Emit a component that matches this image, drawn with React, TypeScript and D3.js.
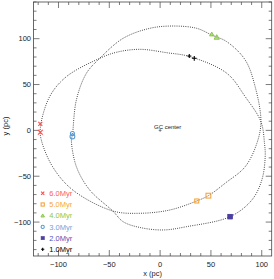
import React from 'react';
import * as d3 from 'd3';

const W = 274;
const H = 279;

const xDomain = [-124.6, 109.8];
const yDomain = [-137, 140];
const xMajor = [-100, -50, 0, 50, 100];
const yMajor = [-100, -50, 0, 50, 100];

// orbit traced in order (closed, two-lobed rosette)
const orbitX = [
  -59.4, -42.9, -19.9, 6.4, 29.4, 65.6, 83.7, 99.2, 102.7, 103.4, 100.1, 90.3, 68.9, 26.1, 3.1, -19.9, -36.4, -46.6,
  -69.3, -82.4, -87.3, -86.3, -82.4, -72.5, -59.4, -36.4, -10.1, 12.9, 36.0, 50.8, 65.6, 83.7, 93.5, 99.2,
  95.2, 83.7, 63.9, 47.5, 36.0, 9.7, -19.9, -46.6, -86.0, -105.8, -116.9, -117.9, -108.7, -92.2,
];
const orbitY = [
  78.6, 85.2, 88.4, 84.7, 80.4, 62.3, 36.8, 9.5, -14.1, -28.7, -54.1, -75.9, -94.1, -105.0, -108.6, -105.9, -99.6, -87.9,
  -65.0, -39.6, -10.5, -5.0, 33.2, 62.3, 78.6, 100.4, 111.3, 113.8, 111.3, 104.0, 96.7, 76.8, 47.7, 9.5,
  -14.1, -39.6, -57.7, -71.2, -77.0, -86.8, -90.4, -87.9, -65.0, -39.6, -10.5, 2.6, 36.8, 58.6,
];

const legendLabels = ['6.0Myr', '5.0Myr', '4.0Myr', '3.0Myr', '2.0Myr', '1.0Myr'];
const legendColors = ['#ff4b4b', '#f5a640', '#8cc84b', '#5b9bd5', '#4b3fa0', '#000000'];
const legendTextColors = ['#ff5a5a', '#f5a640', '#8cc84b', '#6aa6e0', '#5a4fb8', '#000000'];
const legendSymbols = ['x', 'sq', 'tri', 'circ', 'fsq', 'plus'];

const m6X = [-117.9, -117.9];
const m6Y = [7.0, -2.1];
const m5X = [36.0, 47.5];
const m5Y = [-77.0, -71.2];
const m4X = [50.8, 55.7];
const m4Y = [104.8, 101.5];
const m3X = [-86.3, -86.3];
const m3Y = [-3.4, -6.6];
const m2X = [68.9, 68.9];
const m2Y = [-94.1, -94.1];
const m1X = [28.7, 33.6];
const m1Y = [81.1, 78.6];

const markerXs = [m6X, m5X, m4X, m3X, m2X, m1X];
const markerYs = [m6Y, m5Y, m4Y, m3Y, m2Y, m1Y];

const left = 33.5;
const right = 271.7;
const top = 2;
const bottom = 256;

function Marker({ kind, cx, cy, color, s }: { kind: string; cx: number; cy: number; color: string; s: number }) {
  if (kind === 'x') {
    return (
      <path d={`M${cx - s},${cy - s}L${cx + s},${cy + s}M${cx - s},${cy + s}L${cx + s},${cy - s}`} stroke={color} strokeWidth={1.1} fill="none" />
    );
  }
  if (kind === 'plus') {
    return <path d={`M${cx - s},${cy}L${cx + s},${cy}M${cx},${cy - s}L${cx},${cy + s}`} stroke={color} strokeWidth={1.1} fill="none" />;
  }
  if (kind === 'sq') {
    return <rect x={cx - s} y={cy - s} width={2 * s} height={2 * s} stroke={color} strokeWidth={1.1} fill="none" />;
  }
  if (kind === 'fsq') {
    return <rect x={cx - s} y={cy - s} width={2 * s} height={2 * s} stroke={color} strokeWidth={0.6} fill={color} />;
  }
  if (kind === 'tri') {
    return (
      <path d={`M${cx},${cy - s * 1.1}L${cx + s * 1.1},${cy + s * 0.8}L${cx - s * 1.1},${cy + s * 0.8}Z`} stroke={color} strokeWidth={1} fill={color} fillOpacity={0.6} />
    );
  }
  return <circle cx={cx} cy={cy} r={s} stroke={color} strokeWidth={1.1} fill="none" />;
}

export default function App() {
  const x = d3.scaleLinear().domain(xDomain).range([left, right]);
  const y = d3.scaleLinear().domain(yDomain).range([bottom, top]);

  const pts: [number, number][] = orbitX.map((v, i) => [x(v), y(orbitY[i])]);
  const line = d3.line().curve(d3.curveCatmullRomClosed.alpha(0.5));
  const orbitPath = line(pts) || '';

  const xMinor = d3.range(-120, 110, 10);
  const yMinor = d3.range(-130, 141, 10);
  const axisColor = '#444';
  const font = 'Liberation Sans, Arial, Helvetica, sans-serif';

  return (
    <svg width={W} height={H} style={{ position: 'absolute', left: 0, top: 0, background: '#fff' }} fontFamily={font}>
      {/* frame */}
      <rect x={left} y={top} width={right - left} height={bottom - top} fill="none" stroke={axisColor} strokeWidth={0.8} />
      {/* x ticks bottom & top */}
      {xMinor.map((v) => {
        const major = xMajor.includes(v);
        const len = major ? 6 : 3;
        const px = x(v);
        return (
          <g key={'xt' + v}>
            <line x1={px} x2={px} y1={bottom} y2={bottom - len} stroke={axisColor} strokeWidth={0.7} />
            <line x1={px} x2={px} y1={top} y2={top + len} stroke={axisColor} strokeWidth={0.7} />
          </g>
        );
      })}
      {yMinor.map((v) => {
        const major = yMajor.includes(v);
        const len = major ? 6 : 3;
        const py = y(v);
        return (
          <g key={'yt' + v}>
            <line x1={left} x2={left + len} y1={py} y2={py} stroke={axisColor} strokeWidth={0.7} />
            <line x1={right} x2={right - len} y1={py} y2={py} stroke={axisColor} strokeWidth={0.7} />
          </g>
        );
      })}
      {xMajor.map((v) => (
        <text key={'xl' + v} x={x(v)} y={267} fontSize={7.5} textAnchor="middle" fill="#222">
          {v < 0 ? '\u2212' + Math.abs(v) : String(v)}
        </text>
      ))}
      {yMajor.map((v) => (
        <text key={'yl' + v} x={31} y={y(v) + 2.7} fontSize={7.5} textAnchor="end" fill="#222">
          {v < 0 ? '\u2212' + Math.abs(v) : String(v)}
        </text>
      ))}
      <text x={(left + right) / 2} y={276} fontSize={7.5} textAnchor="middle" fill="#222">
        x (pc)
      </text>
      <text transform={`translate(8,${(top + bottom) / 2 - 3}) rotate(-90)`} fontSize={7.5} textAnchor="middle" fill="#222">
        y (pc)
      </text>

      {/* orbit */}
      <path d={orbitPath} fill="none" stroke="#222" strokeWidth={0.9} strokeDasharray="0.9 1.3" />

      {/* GC center */}
      <path d={`M${x(0) - 1.5},${y(0)}L${x(0) + 1.5},${y(0)}M${x(0)},${y(0) - 1.5}L${x(0)},${y(0) + 1.5}`} stroke="#222" strokeWidth={0.5} />
      <text x={x(-6)} y={y(0) - 1} fontSize={6} fill="#222">
        GC center
      </text>

      {/* markers */}
      {markerXs.map((xs, k) =>
        xs.map((v, i) => (
          <Marker key={'m' + k + '_' + i} kind={legendSymbols[k]} cx={x(v)} cy={y(markerYs[k][i])} color={legendColors[k]} s={i === 0 ? 2 : 2.4} />
        ))
      )}

      {/* legend */}
      {legendLabels.map((lab, k) => {
        const ly = 193.3 + k * 11.2;
        return (
          <g key={'lg' + k}>
            <Marker kind={legendSymbols[k]} cx={42.7} cy={ly} color={legendColors[k]} s={1.6} />
            <text x={49.3} y={ly + 2.7} fontSize={7.5} fill={legendTextColors[k]}>
              {lab}
            </text>
          </g>
        );
      })}
    </svg>
  );
}
